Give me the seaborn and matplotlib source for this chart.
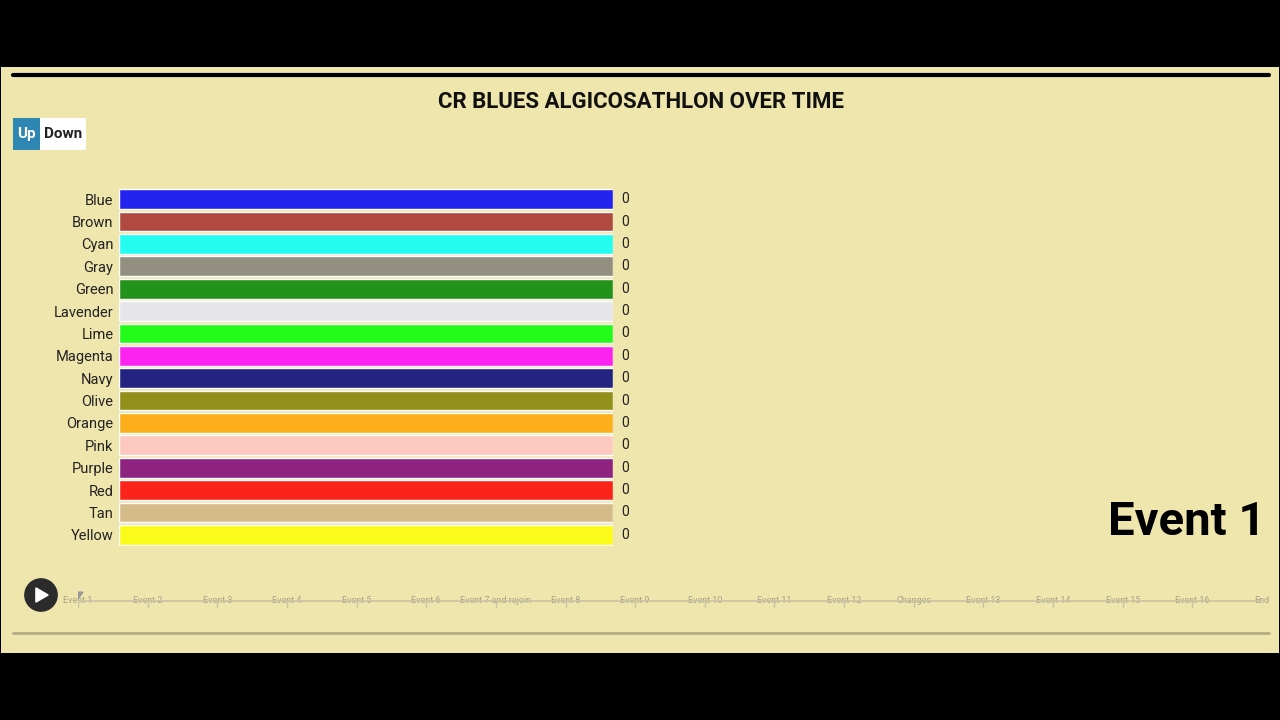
import numpy as np
import matplotlib.pyplot as plt
import seaborn as sns
import pandas as pd
from matplotlib.patches import Rectangle, Circle, Polygon

# Team names, colours and scores at "Event 1"
teams = ["Blue", "Brown", "Cyan", "Gray", "Green", "Lavender", "Lime", "Magenta",
         "Navy", "Olive", "Orange", "Pink", "Purple", "Red", "Tan", "Yellow"]
colors = ["#2323f0", "#b04a40", "#23fcef", "#928f80", "#23921a", "#e6e6ea", "#23fc1a",
          "#fc23f0", "#232382", "#928f1a", "#fcaf1a", "#fcc8c0", "#8f2382", "#fc231a",
          "#d6bb8a", "#fcfc1a"]
scores = [0] * 16
events = ["Event 1", "Event 2", "Event 3", "Event 4", "Event 5", "Event 6", "Event 7 and rejoin",
          "Event 8", "Event 9", "Event 10", "Event 11", "Event 12", "Changes", "Event 13",
          "Event 14", "Event 15", "Event 16", "End"]
current = "Event 1"

sns.set_theme(style="white")
plt.rcParams['font.family'] = ['Roboto', 'DejaVu Sans']
bg = "#efe6ae"
W, H = 1280, 720

fig = plt.figure(figsize=(12.8, 7.2), dpi=100)
fig.patch.set_facecolor("black")

# background layer in pixel coordinates
back = fig.add_axes([0, 0, 1, 1], zorder=-5)
back.set_xlim(0, W); back.set_ylim(H, 0); back.axis("off")
back.add_patch(Rectangle((1, 67), 1278, 586, facecolor=bg, edgecolor="none"))
back.plot([13, 1269], [75, 75], color="black", lw=3)
back.plot([13, 1269], [633, 633], color="#b5ad85", lw=2)
back.text(641, 102, "CR BLUES ALGICOSATHLON OVER TIME", ha="center", va="center",
          fontsize=16, fontweight="bold", color="#111111")
back.add_patch(Rectangle((13, 118), 27, 32, facecolor="#2e86b3", edgecolor="none"))
back.add_patch(Rectangle((40, 118), 46, 32, facecolor="white", edgecolor="none"))
back.text(26.5, 134, "Up", ha="center", va="center", fontsize=11, fontweight="bold", color="white")
back.text(63, 134, "Down", ha="center", va="center", fontsize=11, fontweight="bold", color="#222222")
back.text(1266, 522, current, ha="right", va="center", fontsize=34, fontweight="bold", color="black")

def fx(x): return x / W
def fy(y): return 1 - y / H

# bar chart
ax = fig.add_axes([fx(119), fy(546), fx(613) - fx(119), fy(188) - fy(546)])
df = pd.DataFrame({"team": teams, "score": scores})
mx = max(scores)
df["length"] = df["score"] / mx if mx > 0 else 1.0
sns.barplot(data=df, y="team", x="length", hue="team", palette=colors, legend=False,
            width=0.88, ax=ax, saturation=1)
ax.set_xlim(0, 1)
ax.set_ylim(len(teams) - 0.5, -0.5)
ax.patch.set_visible(False)
for s in ax.spines.values():
    s.set_visible(False)
ax.set_xticks([])
ax.set_xlabel("")
ax.set_ylabel("")
ax.tick_params(axis="y", length=0, pad=4, labelsize=10.5, labelcolor="#222222")
for i, v in enumerate(df["score"]):
    ax.text(df["length"][i] + 0.017, i, f"{v}", va="center", ha="left", fontsize=10, color="#222222")

# timeline
tl = fig.add_axes([fx(78), fy(620), fx(1262) - fx(78), fy(590) - fy(620)])
tl.patch.set_visible(False)
tl.set_xlim(0, len(events) - 1)
tl.set_ylim(0, 1)
tl.axhline(0.63, color="#c9c3a0", lw=1.2)
for s in tl.spines.values():
    s.set_visible(False)
tl.set_yticks([])
tl.set_xticks(range(len(events)))
tl.set_xticklabels(events, fontsize=6.5, color="#a8a38a")
tl.tick_params(axis="x", length=0, pad=-17)
for i in range(len(events)):
    tl.plot([i, i], [0.63, 0.45], color="#c9c3a0", lw=1)
tl.add_patch(Polygon([[-0.07, 0.93], [0.07, 0.93], [0, 0.7]], closed=True, color="#999999"))

pa = fig.add_axes([fx(24), fy(612), fx(34), fy(578) - fy(612)])
pa.set_xlim(-1, 1); pa.set_ylim(-1, 1); pa.set_aspect("equal"); pa.axis("off")
pa.add_patch(Circle((0, 0), 0.95, color="#2b2b2b"))
pa.add_patch(Polygon([[-0.3, 0.42], [-0.3, -0.42], [0.42, 0]], closed=True, color="white"))

fig.savefig("out.png", dpi=100, facecolor=fig.get_facecolor())
